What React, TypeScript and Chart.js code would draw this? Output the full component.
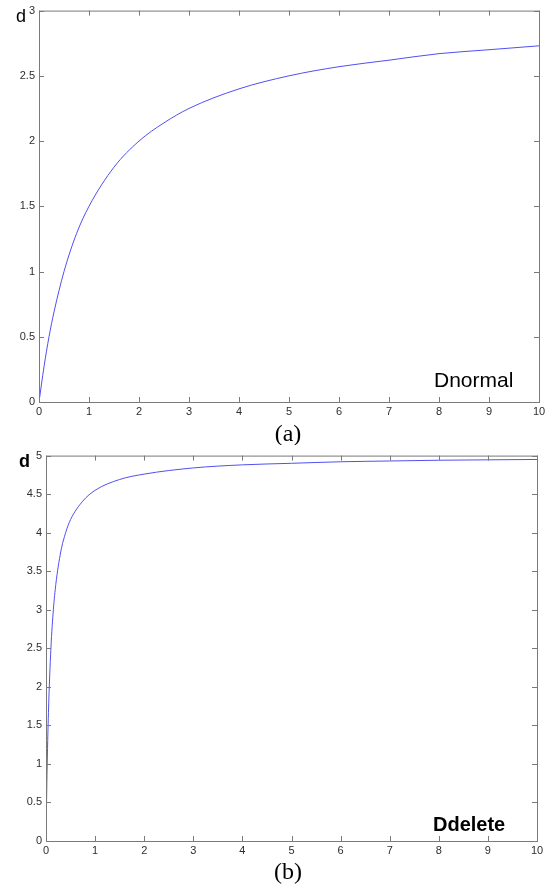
import { useEffect, useRef } from "react";
import { Chart, registerables } from "chart.js";

Chart.register(...registerables);

// Dnormal curve: d against x
const normalX = [0, 0.1, 0.2, 0.3, 0.5, 0.75, 1, 1.5, 2, 2.5, 3, 4, 5, 6, 7, 8, 9, 10];
const normalD = [0, 0.27, 0.5, 0.69, 1.0, 1.29, 1.5, 1.8, 2.0, 2.14, 2.25, 2.4, 2.5, 2.57, 2.62, 2.67, 2.7, 2.73];

// Ddelete curve: d against x
const deleteX = [0, 0.01, 0.02, 0.05, 0.1, 0.15, 0.2, 0.3, 0.4, 0.5, 0.75, 1, 1.5, 2, 3, 4, 5, 6, 7, 8, 9, 10];
const deleteD = [0, 0.45, 0.85, 1.67, 2.5, 3.0, 3.33, 3.75, 4.0, 4.17, 4.41, 4.55, 4.69, 4.76, 4.84, 4.88, 4.9, 4.92, 4.93, 4.94, 4.945, 4.95];

// Tick values
const xTicks = [0, 1, 2, 3, 4, 5, 6, 7, 8, 9, 10];
const normalYTicks = [0, 0.5, 1, 1.5, 2, 2.5, 3];
const deleteYTicks = [0, 0.5, 1, 1.5, 2, 2.5, 3, 3.5, 4, 4.5, 5];

const CURVE = "#5050f0";
const FRAME = "#7a7a7a";
const TICK_TEXT = "#2e2e2e";
const W = 557;
const H = 445;

type PanelProps = {
  xs: number[];
  ys: number[];
  yTicks: number[];
  yMax: number;
  top: number;
  area: { left: number; top: number; right: number; bottom: number };
  yLabelFont: string;
  yLabelPos: [number, number];
  tag: string;
  tagFont: string;
  tagPos: [number, number];
  caption: string;
  captionY: number;
};

function Panel(p: PanelProps) {
  const ref = useRef<HTMLCanvasElement | null>(null);

  useEffect(() => {
    const canvas = ref.current;
    if (!canvas) return;

    // Box frame, inward ticks on all four sides, and text annotations
    const decor = {
      id: "decor",
      afterDatasetsDraw(chart: any) {
        const { ctx, chartArea: a, scales } = chart;
        ctx.save();
        ctx.strokeStyle = FRAME;
        ctx.lineWidth = 1;
        ctx.strokeRect(a.left + 0.5, a.top + 0.5, a.right - a.left, a.bottom - a.top);
        const len = 5;
        ctx.beginPath();
        for (const v of xTicks) {
          const px = Math.round(scales.x.getPixelForValue(v)) + 0.5;
          ctx.moveTo(px, a.bottom);
          ctx.lineTo(px, a.bottom - len);
          ctx.moveTo(px, a.top);
          ctx.lineTo(px, a.top + len);
        }
        for (const v of p.yTicks) {
          const py = Math.round(scales.y.getPixelForValue(v)) + 0.5;
          ctx.moveTo(a.left, py);
          ctx.lineTo(a.left + len, py);
          ctx.moveTo(a.right, py);
          ctx.lineTo(a.right - len, py);
        }
        ctx.stroke();

        ctx.fillStyle = "#000";
        ctx.textBaseline = "alphabetic";
        ctx.textAlign = "left";
        ctx.font = p.yLabelFont;
        ctx.fillText("d", p.yLabelPos[0], p.yLabelPos[1]);
        ctx.font = p.tagFont;
        ctx.fillText(p.tag, p.tagPos[0], p.tagPos[1]);
        ctx.font = '24px "Liberation Serif", serif';
        ctx.textAlign = "center";
        ctx.fillText(p.caption, 288, p.captionY);
        ctx.restore();
      },
    };

    const tickFont = { family: '"Liberation Sans", Arial, sans-serif', size: 11 };

    const chart = new Chart(canvas, {
      type: "line",
      data: {
        datasets: [
          {
            data: p.xs.map((x, i) => ({ x, y: p.ys[i] })),
            borderColor: CURVE,
            borderWidth: 1,
            pointRadius: 0,
            fill: false,
            cubicInterpolationMode: "monotone",
          },
        ],
      },
      options: {
        responsive: false,
        animation: false,
        devicePixelRatio: 1,
        layout: {
          padding: { left: 0, top: p.area.top, right: W - p.area.right, bottom: 0 },
        },
        plugins: { legend: { display: false }, tooltip: { enabled: false } },
        scales: {
          x: {
            type: "linear",
            min: 0,
            max: 10,
            grid: { display: false, drawTicks: false },
            border: { display: false },
            ticks: {
              font: tickFont,
              color: TICK_TEXT,
              padding: 3,
              maxRotation: 0,
              callback: (v: any) => String(v),
            },
            afterBuildTicks: (s: any) => {
              s.ticks = xTicks.map((value) => ({ value }));
            },
            afterFit: (s: any) => {
              s.height = H - p.area.bottom;
            },
          },
          y: {
            type: "linear",
            min: 0,
            max: p.yMax,
            grid: { display: false, drawTicks: false },
            border: { display: false },
            ticks: {
              font: tickFont,
              color: TICK_TEXT,
              padding: 4,
              callback: (v: any) => String(v),
            },
            afterBuildTicks: (s: any) => {
              s.ticks = p.yTicks.map((value) => ({ value }));
            },
            afterFit: (s: any) => {
              s.width = p.area.left;
            },
          },
        },
      },
      plugins: [decor],
    } as any);

    return () => chart.destroy();
  }, []);

  return (
    <canvas
      ref={ref}
      width={W}
      height={H}
      style={{ position: "absolute", left: 0, top: p.top, width: W, height: H, display: "block" }}
    />
  );
}

export default function App() {
  return (
    <div style={{ position: "absolute", left: 0, top: 0, width: W, height: 890, background: "#fff" }}>
      <Panel
        xs={normalX}
        ys={normalD}
        yTicks={normalYTicks}
        yMax={3}
        top={0}
        area={{ left: 39, top: 9, right: 539, bottom: 402 }}
        yLabelFont='18px "Liberation Sans", Arial, sans-serif'
        yLabelPos={[16, 22]}
        tag="Dnormal"
        tagFont='21px "Liberation Sans", Arial, sans-serif'
        tagPos={[434, 387]}
        caption="(a)"
        captionY={441}
      />
      <Panel
        xs={deleteX}
        ys={deleteD}
        yTicks={deleteYTicks}
        yMax={5}
        top={445}
        area={{ left: 46, top: 10, right: 537, bottom: 396 }}
        yLabelFont='bold 18px "Liberation Sans", Arial, sans-serif'
        yLabelPos={[19, 22]}
        tag="Ddelete"
        tagFont='bold 20px "Liberation Sans", Arial, sans-serif'
        tagPos={[433, 386]}
        caption="(b)"
        captionY={434}
      />
    </div>
  );
}
